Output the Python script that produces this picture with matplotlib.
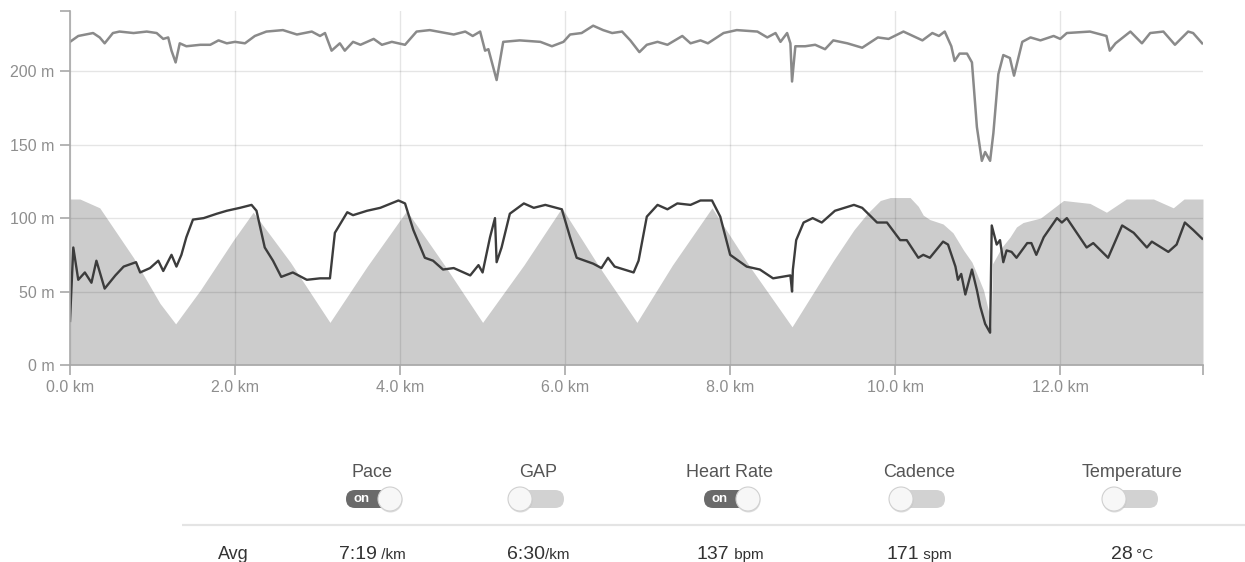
import numpy as np
import matplotlib
matplotlib.use('Agg')
import matplotlib.pyplot as plt
from matplotlib.patches import FancyBboxPatch, Circle

# elevation profile (m)
elev_km = [0.0, 0.12, 0.36, 0.77, 1.09, 1.28, 1.58, 1.98, 2.22, 2.67,
           3.15, 3.6, 4.08, 4.55, 5.0, 5.5, 5.96, 6.4, 6.87, 7.3,
           7.78, 8.25, 8.75, 8.85, 9.25, 9.5, 9.66, 9.82, 9.94, 10.18,
           10.28, 10.34, 10.42, 10.58, 10.7, 10.83, 10.93, 10.99, 11.07, 11.13,
           11.16, 11.18, 11.23, 11.29, 11.39, 11.47, 11.55, 11.76, 12.04, 12.36,
           12.56, 12.8, 13.13, 13.37, 13.5, 13.73]
elev_m = [113, 113, 107, 73, 42, 28, 51, 85, 104, 70,
          29, 67, 105, 67, 29, 68, 107, 68, 29, 68,
          107, 66, 26, 35, 71, 92, 103, 112, 114, 114,
          108, 102, 99, 96, 90, 78, 70, 62, 51, 37,
          24, 69, 74, 80, 87, 94, 97, 100, 112, 110,
          104, 113, 113, 107, 113, 113]

# pace trace (dark line), in chart units
pace_km = [0.0, 0.04, 0.1, 0.18, 0.26, 0.32, 0.42, 0.55, 0.65, 0.8,
           0.85, 0.97, 1.07, 1.13, 1.23, 1.29, 1.35, 1.41, 1.49, 1.62,
           1.78, 1.9, 2.06, 2.2, 2.26, 2.36, 2.46, 2.56, 2.7, 2.87,
           3.03, 3.15, 3.21, 3.36, 3.43, 3.6, 3.76, 3.98, 4.06, 4.16,
           4.3, 4.4, 4.52, 4.65, 4.85, 4.95, 5.0, 5.09, 5.15, 5.17,
           5.23, 5.33, 5.5, 5.62, 5.76, 5.96, 6.06, 6.14, 6.34, 6.44,
           6.52, 6.6, 6.83, 6.89, 6.99, 7.12, 7.24, 7.36, 7.52, 7.64,
           7.78, 7.88, 8.0, 8.2, 8.36, 8.52, 8.73, 8.75, 8.76, 8.8,
           8.89, 9.0, 9.11, 9.27, 9.5, 9.6, 9.78, 9.9, 10.06, 10.14,
           10.28, 10.34, 10.42, 10.58, 10.64, 10.73, 10.76, 10.8, 10.85, 10.93,
           10.99, 11.03, 11.09, 11.15, 11.17, 11.23, 11.27, 11.31, 11.35, 11.41,
           11.47, 11.6, 11.65, 11.71, 11.8, 11.96, 12.02, 12.08, 12.32, 12.4,
           12.58, 12.75, 12.89, 13.05, 13.11, 13.31, 13.41, 13.51, 13.61, 13.72]
pace_val = [30, 80, 58, 63, 56, 71, 52, 61, 67, 70,
            63, 66, 71, 64, 75, 67, 75, 87, 99, 100,
            103, 105, 107, 109, 105, 80, 71, 60, 63, 58,
            59, 59, 90, 104, 102, 105, 107, 112, 110, 92,
            73, 71, 65, 66, 61, 68, 63, 87, 100, 70,
            80, 103, 110, 107, 109, 106, 87, 73, 69, 66,
            73, 67, 63, 71, 101, 109, 106, 110, 109, 112,
            112, 101, 75, 67, 65, 59, 61, 50, 65, 85,
            97, 100, 97, 105, 109, 107, 97, 97, 85, 85,
            73, 75, 73, 84, 82, 67, 58, 62, 48, 65,
            51, 40, 28, 22, 95, 82, 85, 70, 78, 77,
            73, 83, 83, 75, 87, 100, 97, 100, 80, 83,
            73, 95, 90, 80, 84, 77, 82, 97, 92, 86]

# heart rate trace (light line), in chart units
hr_km = [0.0, 0.1, 0.28, 0.36, 0.42, 0.52, 0.6, 0.77, 0.93, 1.05,
         1.13, 1.19, 1.23, 1.28, 1.33, 1.41, 1.58, 1.7, 1.8, 1.9,
         2.0, 2.12, 2.24, 2.38, 2.58, 2.75, 2.93, 3.03, 3.09, 3.17,
         3.27, 3.33, 3.43, 3.52, 3.68, 3.78, 3.9, 4.06, 4.2, 4.36,
         4.65, 4.79, 4.88, 4.97, 5.03, 5.07, 5.17, 5.25, 5.45, 5.7,
         5.84, 5.98, 6.06, 6.2, 6.34, 6.46, 6.57, 6.69, 6.79, 6.9,
         6.99, 7.12, 7.24, 7.42, 7.52, 7.64, 7.73, 7.92, 8.08, 8.33,
         8.45, 8.55, 8.61, 8.69, 8.73, 8.75, 8.79, 8.91, 9.03, 9.15,
         9.25, 9.42, 9.6, 9.79, 9.92, 10.1, 10.33, 10.45, 10.53, 10.6,
         10.68, 10.72, 10.78, 10.87, 10.93, 10.99, 11.05, 11.09, 11.15, 11.19,
         11.25, 11.31, 11.39, 11.44, 11.54, 11.64, 11.76, 11.92, 12.0, 12.08,
         12.36, 12.56, 12.6, 12.67, 12.85, 12.99, 13.09, 13.25, 13.39, 13.55,
         13.61, 13.72]
hr_val = [220, 224, 226, 223, 219, 226, 227, 226, 227, 226,
          222, 223, 214, 206, 219, 217, 218, 218, 221, 219,
          220, 219, 224, 227, 228, 225, 227, 224, 226, 214,
          219, 214, 220, 218, 222, 218, 220, 218, 227, 228,
          225, 227, 224, 227, 214, 215, 194, 220, 221, 220,
          217, 220, 225, 226, 231, 228, 226, 227, 221, 213,
          218, 220, 218, 224, 219, 221, 219, 226, 228, 227,
          223, 226, 220, 226, 219, 193, 217, 217, 218, 215,
          221, 219, 216, 223, 222, 227, 221, 226, 224, 227,
          217, 207, 212, 212, 206, 162, 139, 145, 139, 158,
          198, 211, 209, 197, 220, 223, 221, 224, 222, 226,
          227, 224, 214, 219, 227, 219, 226, 227, 218, 227,
          226, 219]

xticks_km = [0, 2, 4, 6, 8, 10, 12]
yticks_m = [0, 50, 100, 150, 200]
x_end = 13.73
y_top = 241

streams = ['Pace', 'GAP', 'Heart Rate', 'Cadence', 'Temperature']
stream_on = [True, False, True, False, False]
avg_num = ['7:19', '6:30', '137', '171', '28']
avg_unit = [' /km', '/km', ' bpm', ' spm', ' \u00b0C']

plt.rc('font', family=['Liberation Sans', 'DejaVu Sans'])

W, H = 1245, 562
fig = plt.figure(figsize=(W / 100, H / 100), dpi=100)
fig.patch.set_facecolor('white')

# ---- chart ----
ax = fig.add_axes([70 / W, 1 - 365 / H, (1203 - 70) / W, (365 - 11) / H])
ax.set_zorder(2)
ax.fill_between(elev_km, 0, elev_m, color='#cccccc', lw=0)
ax.plot(hr_km, hr_val, color='#8a8a8a', lw=1.8, solid_joinstyle='round')
ax.plot(pace_km, pace_val, color='#3c3c3c', lw=1.7, solid_joinstyle='round')

ax.set_xlim(0, x_end)
ax.set_ylim(0, y_top)
ax.set_xticks(xticks_km, [f'{v:.1f} km' for v in xticks_km])
ax.set_yticks(yticks_m, [f'{v} m' for v in yticks_m])
# end ticks on the spines, no label and no grid
ax.set_xticks([x_end], minor=True)
ax.set_yticks([y_top], minor=True)
ax.tick_params(which='both', length=7, width=1.1, color='#a0a0a0',
               labelcolor='#8e8e8e', labelsize=11.5, pad=4)
ax.grid(True, which='major', color='k', alpha=0.1, lw=1)
for s in ['top', 'right']:
    ax.spines[s].set_visible(False)
for s in ['left', 'bottom']:
    ax.spines[s].set_color('#a8a8a8')
    ax.spines[s].set_linewidth(1.2)

# ---- stream toggles and averages ----
ui = fig.add_axes([0, 0, 1, 1])
ui.set_zorder(1)
ui.set_xlim(0, W)
ui.set_ylim(H, 0)
ui.axis('off')

col_x = [372, 538, 730, 919, 1132]
pill_w, pill_h, knob_r = 52, 18, 12
toggle_y = 499

for cx, name, on in zip(col_x, streams, stream_on):
    ui.text(cx, 477, name, ha='center', va='baseline', fontsize=13, color='#555555')
    pill = FancyBboxPatch((cx - pill_w / 2, toggle_y - pill_h / 2), pill_w, pill_h,
                          boxstyle=f'round,pad=0,rounding_size={pill_h / 2}',
                          fc='#6a6a6a' if on else '#d2d2d2', ec='none')
    ui.add_patch(pill)
    kx = cx + 18 if on else cx - 18
    ui.add_patch(Circle((kx + 0.5, toggle_y + 1.5), knob_r, fc='#bbbbbb', ec='none', alpha=0.5))
    ui.add_patch(Circle((kx, toggle_y), knob_r, fc='#f7f7f7', ec='#d0d0d0', lw=0.8))
    if on:
        ui.text(cx - 10, toggle_y + 0.5, 'on', ha='center', va='center',
                fontsize=9.5, fontweight='bold', color='white')

ui.plot([182, W], [525, 525], color='#e4e4e4', lw=1.6, solid_capstyle='butt')
ui.text(233, 559, 'Avg', ha='center', va='baseline', fontsize=13, color='#333333')

# number + smaller unit, centred as one group under each column
renderer = fig.canvas.get_renderer()
for cx, num, unit in zip(col_x, avg_num, avg_unit):
    t1 = ui.text(0, 559, num, ha='left', va='baseline', fontsize=14, color='#333333')
    t2 = ui.text(0, 559, unit, ha='left', va='baseline', fontsize=11, color='#333333')
    w1 = t1.get_window_extent(renderer).width
    w2 = t2.get_window_extent(renderer).width
    x0 = cx - (w1 + w2) / 2
    t1.set_x(x0)
    t2.set_x(x0 + w1)

fig.savefig('out.png', dpi=100, facecolor='white')
